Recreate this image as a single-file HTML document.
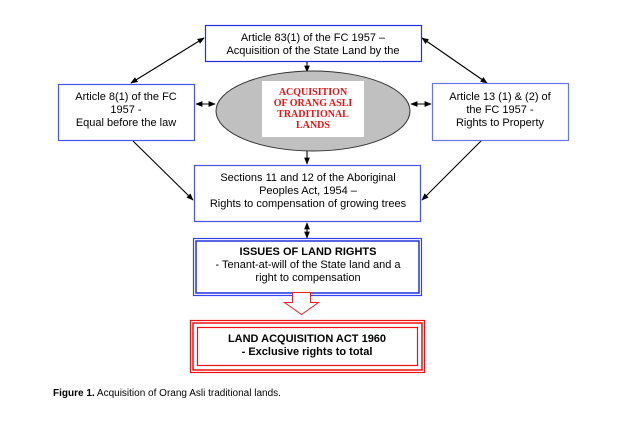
<!DOCTYPE html>
<html><head><meta charset="utf-8"><style>
html,body{margin:0;padding:0;background:#fff;}
svg{display:block;}
text{font-family:"Liberation Sans",sans-serif;font-size:11px;fill:#000;}
.b{stroke:#2233dd;fill:none;}
.r{stroke:#ee1111;fill:none;}
</style></head><body>
<svg width="635" height="422" viewBox="0 0 635 422" xmlns="http://www.w3.org/2000/svg">
<defs>
<marker id="a" viewBox="0 0 10 10" refX="9" refY="5" markerWidth="6.5" markerHeight="6.5" orient="auto-start-reverse"><path d="M0,1 L10,5 L0,9 z" fill="#000"/></marker>
</defs>
<g stroke="#000" stroke-width="1.1" fill="none">
<line x1="131" y1="83" x2="204" y2="38" marker-start="url(#a)" marker-end="url(#a)"/>
<line x1="487" y1="83" x2="422" y2="38" marker-start="url(#a)" marker-end="url(#a)"/>
<line x1="133" y1="141" x2="193" y2="200" marker-end="url(#a)"/>
<line x1="482" y1="140" x2="422" y2="200" marker-end="url(#a)"/>
<line x1="196" y1="104" x2="215" y2="104" marker-start="url(#a)" marker-end="url(#a)"/>
<line x1="411" y1="104" x2="431" y2="104" marker-start="url(#a)" marker-end="url(#a)"/>
<line x1="307" y1="61" x2="307" y2="72" marker-end="url(#a)"/>
<line x1="307" y1="150" x2="307" y2="164" marker-end="url(#a)"/>
<line x1="307" y1="223" x2="307" y2="238" marker-start="url(#a)" marker-end="url(#a)"/>
</g>
<rect x="205.5" y="25.5" width="216" height="36" fill="#fff" style="stroke:#2233dd;stroke-width:1.2"/>
<text x="313" y="41" text-anchor="middle">Article 83(1) of the FC 1957 –</text>
<text x="313" y="54" text-anchor="middle">Acquisition of the State Land by the</text>
<rect x="58.5" y="84.5" width="136" height="56" fill="#fff" style="stroke:#4455ee;stroke-width:1.2"/>
<text x="126" y="100" text-anchor="middle">Article 8(1) of the FC</text>
<text x="126" y="113" text-anchor="middle">1957 -</text>
<text x="126" y="126" text-anchor="middle">Equal before the law</text>
<rect x="432.5" y="83.5" width="136" height="57" fill="#fff" style="stroke:#6677ee;stroke-width:1.2"/>
<text x="500" y="100" text-anchor="middle">Article 13 (1) &amp; (2) of</text>
<text x="500" y="113" text-anchor="middle">the FC 1957 -</text>
<text x="500" y="126" text-anchor="middle">Rights to Property</text>
<ellipse cx="313" cy="111" rx="97" ry="40" fill="#c0c0c0" stroke="#333" stroke-width="1"/>
<rect x="262" y="81" width="102" height="56" fill="#fff"/>
<text x="313" y="95" text-anchor="middle" style="fill:#ee1111;font-family:'Liberation Serif',serif;font-size:10px;font-weight:bold;">ACQUISITION</text>
<text x="313" y="106" text-anchor="middle" style="fill:#ee1111;font-family:'Liberation Serif',serif;font-size:10px;font-weight:bold;">OF ORANG ASLI</text>
<text x="313" y="117" text-anchor="middle" style="fill:#ee1111;font-family:'Liberation Serif',serif;font-size:10px;font-weight:bold;">TRADITIONAL</text>
<text x="313" y="128" text-anchor="middle" style="fill:#ee1111;font-family:'Liberation Serif',serif;font-size:10px;font-weight:bold;">LANDS</text>
<rect x="194.5" y="165.5" width="226" height="56" fill="#fff" style="stroke:#4455ee;stroke-width:1.2"/>
<text x="308" y="181" text-anchor="middle">Sections 11 and 12 of the Aboriginal</text>
<text x="308" y="194" text-anchor="middle">Peoples Act, 1954 –</text>
<text x="308" y="207" text-anchor="middle">Rights to compensation of growing trees</text>
<rect x="193.5" y="238.5" width="228" height="57" fill="#fff" style="stroke:#3344ee;stroke-width:1.2"/>
<rect x="196" y="241" width="223" height="52" style="fill:none;stroke:#2233dd;stroke-width:1.5"/>
<text x="308" y="255" text-anchor="middle" font-weight="bold">ISSUES OF LAND RIGHTS</text>
<text x="308" y="268" text-anchor="middle">- Tenant-at-will of the State land and a</text>
<text x="308" y="281" text-anchor="middle">right to compensation</text>
<path d="M292.5,292.5 H310.5 V302.5 H318.5 L301.5,314.5 L284.5,302.5 H292.5 Z" fill="#fff" style="stroke:#ee2222;stroke-width:1"/>
<rect x="190.5" y="320.5" width="234" height="52" fill="#fff" style="stroke:#ee1111;stroke-width:1.2"/>
<rect x="193" y="323" width="229" height="47" style="fill:none;stroke:#ee1111;stroke-width:1.5"/>
<rect x="197.5" y="327.5" width="220" height="38" style="fill:none;stroke:#ee1111;stroke-width:1.2"/>
<text x="307" y="342" text-anchor="middle" font-weight="bold">LAND ACQUISITION ACT 1960</text>
<text x="307" y="355" text-anchor="middle" font-weight="bold">- Exclusive rights to total</text>
<text x="53" y="396" style="font-size:10px;"><tspan font-weight="bold">Figure 1.</tspan> Acquisition of Orang Asli traditional lands.</text>
</svg>
</body></html>
